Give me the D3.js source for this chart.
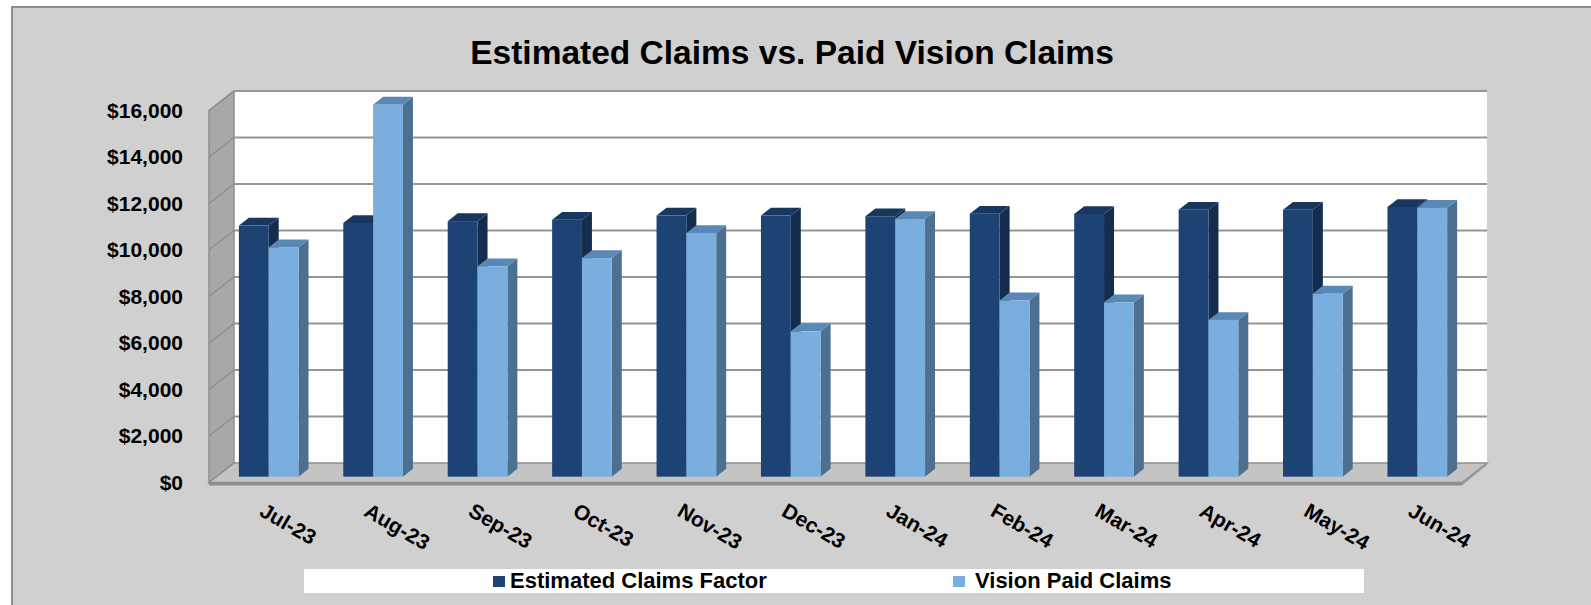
<!DOCTYPE html>
<html>
<head>
<meta charset="utf-8">
<script src="https://cdn.jsdelivr.net/npm/d3@7"></script>
<style>
  body { margin: 0; background: #fff; }
  text { font-family: "Liberation Sans", Arial, sans-serif; font-weight: bold; fill: #000; }
</style>
</head>
<body>
<div id="chart"></div>
<script>
var months = ["Jul-23", "Aug-23", "Sep-23", "Oct-23", "Nov-23", "Dec-23",
              "Jan-24", "Feb-24", "Mar-24", "Apr-24", "May-24", "Jun-24"];
var estimated = [10800, 10910, 10990, 11050, 11230, 11230, 11200, 11310, 11300, 11480, 11480, 11600];
var paid = [9860, 16000, 9050, 9400, 10480, 6250, 11080, 7580, 7500, 6740, 7870, 11560];
var seriesNames = ["Estimated Claims Factor", "Vision Paid Claims"];
var yTicks = [0, 2000, 4000, 6000, 8000, 10000, 12000, 14000, 16000];

var width = 1591, height = 605;

// back wall of the 3d box, and the depth vector (back -> front)
var wallLeft = 234, wallRight = 1487, wallBottom = 463, wallTop = 91;
var ddx = -25, ddy = 19.5;

// front / top / side colours per series
var faces = [
  {front: "#1d4375", top: "#17375f", side: "#142d4e"},
  {front: "#7aaede", top: "#5a88b6", side: "#4e7090"}
];

var svg = d3.select("#chart").append("svg")
    .attr("width", width)
    .attr("height", height);

// chart area
svg.append("rect")
    .attr("x", 12).attr("y", 7)
    .attr("width", width + 20).attr("height", height + 20)
    .attr("fill", "#d0d0d0")
    .attr("stroke", "#8e8e8e")
    .attr("stroke-width", 2);

svg.append("text")
    .attr("x", 792)
    .attr("y", 64)
    .attr("text-anchor", "middle")
    .style("font-size", "33.5px")
    .text("Estimated Claims vs. Paid Vision Claims");

var x = d3.scaleBand()
    .domain(months)
    .range([wallLeft, wallRight]);

var xs = d3.scaleBand()
    .domain([0, 1])
    .range([0, x.bandwidth()])
    .paddingInner(0)
    .paddingOuter(0.75);

var y = d3.scaleLinear()
    .domain([0, 16000])
    .range([wallBottom, wallTop]);

function pt(px, py, f) { return [px + f * ddx, py + f * ddy]; }
function poly(pts) { return pts.map(function(p) { return p.join(","); }).join(" "); }

// back wall
svg.append("rect")
    .attr("x", wallLeft).attr("y", wallTop)
    .attr("width", wallRight - wallLeft).attr("height", wallBottom - wallTop)
    .attr("fill", "#fff");

// side wall
svg.append("polygon")
    .attr("points", poly([pt(wallLeft, wallTop, 1), pt(wallLeft, wallTop, 0), pt(wallLeft, wallBottom, 0), pt(wallLeft, wallBottom, 1)]))
    .attr("fill", "#a8a8a8")
    .attr("stroke", "#8e8e8e")
    .attr("stroke-width", 1.5);

// floor
svg.append("polygon")
    .attr("points", poly([pt(wallLeft, wallBottom, 0), pt(wallRight, wallBottom, 0), pt(wallRight, wallBottom, 1), pt(wallLeft, wallBottom, 1)]))
    .attr("fill", "#c4c4c4")
    .attr("stroke", "#8e8e8e")
    .attr("stroke-width", 1.5);
var fl = pt(wallLeft, wallBottom, 1), fr = pt(wallRight, wallBottom, 1);
svg.append("polygon")
    .attr("points", poly([fl, fr, [fr[0], fr[1] + 3], [fl[0], fl[1] + 3]]))
    .attr("fill", "#8e8e8e");
svg.append("polygon")
    .attr("points", poly([fr, [wallRight, wallBottom], [wallRight, wallBottom + 2], [fr[0], fr[1] + 3]]))
    .attr("fill", "#9a9a9a");

// gridlines
var grid = svg.append("g");
yTicks.forEach(function(t) {
  if (t === 0) return;
  grid.append("line")
      .attr("x1", wallLeft).attr("x2", wallRight)
      .attr("y1", y(t)).attr("y2", y(t))
      .attr("stroke", "#969696")
      .attr("stroke-width", 2);
  var a = pt(wallLeft, y(t), 0), b = pt(wallLeft, y(t), 1);
  grid.append("line")
      .attr("x1", a[0]).attr("y1", a[1])
      .attr("x2", b[0]).attr("y2", b[1])
      .attr("stroke", "#8e8e8e")
      .attr("stroke-width", 1.5);
});

// y labels sit on the front edge
svg.append("g").selectAll("text")
    .data(yTicks)
  .enter().append("text")
    .attr("x", 183)
    .attr("y", function(d) { return y(d) + ddy; })
    .attr("dy", "0.35em")
    .attr("text-anchor", "end")
    .style("font-size", "21px")
    .text(function(d) { return d3.format("$,")(d); });

// bars: front face at depth 0.7, back face at depth 0.3
var bars = [];
months.forEach(function(m, i) {
  [estimated[i], paid[i]].forEach(function(v, s) {
    bars.push({month: m, s: s, v: v});
  });
});

var fFront = 0.7, fBack = 0.3;
var gb = svg.append("g");
bars.forEach(function(d) {
  var x0 = x(d.month) + xs(d.s), x1 = x0 + xs.bandwidth();
  var y0 = y(0), y1 = y(d.v);
  var c = faces[d.s];
  var g = gb.append("g");
  g.append("polygon")
      .attr("points", poly([pt(x1, y1, fFront), pt(x1, y1, fBack), pt(x1, y0, fBack), pt(x1, y0, fFront)]))
      .attr("fill", c.side);
  g.append("polygon")
      .attr("points", poly([pt(x0, y1, fFront), pt(x0, y1, fBack), pt(x1, y1, fBack), pt(x1, y1, fFront)]))
      .attr("fill", c.top);
  var p = pt(x0, y1, fFront);
  g.append("rect")
      .attr("x", p[0]).attr("y", p[1])
      .attr("width", x1 - x0)
      .attr("height", y0 - y1)
      .attr("fill", c.front);
});

// x labels
svg.append("g").selectAll("text")
    .data(months)
  .enter().append("text")
    .attr("transform", function(d) {
      var cx = x(d) + x.bandwidth() / 2 + ddx;
      return "translate(" + (cx - 3) + ",515) rotate(30)";
    })
    .style("font-size", "21px")
    .text(function(d) { return d; });

// legend
var legend = svg.append("g");
legend.append("rect")
    .attr("x", 304).attr("y", 569)
    .attr("width", 1060).attr("height", 24)
    .attr("fill", "#fff");
var lx = [493, 953], tx = [510, 975];
seriesNames.forEach(function(name, i) {
  legend.append("rect")
      .attr("x", lx[i]).attr("y", 576)
      .attr("width", 12).attr("height", 11)
      .attr("fill", faces[i].front);
  legend.append("text")
      .attr("x", tx[i])
      .attr("y", 588)
      .style("font-size", "22px")
      .text(name);
});
</script>
</body>
</html>
